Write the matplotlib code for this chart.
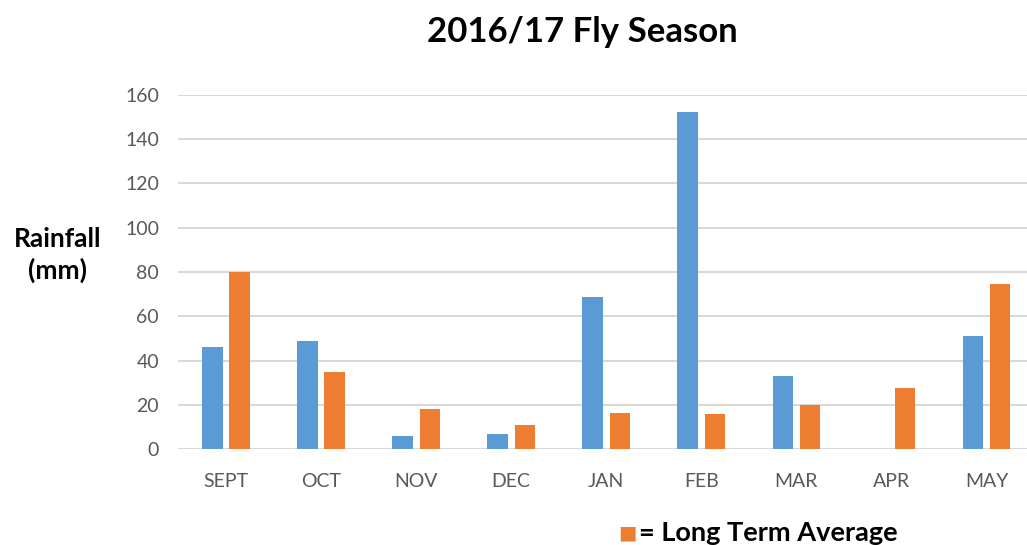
import numpy as np
import matplotlib
matplotlib.use("Agg")
import matplotlib.pyplot as plt

plt.rcParams['font.family'] = ['Lato', 'DejaVu Sans']

months = ["SEPT", "OCT", "NOV", "DEC", "JAN", "FEB", "MAR", "APR", "MAY"]
rain_1617 = [46.3, 49.0, 5.7, 6.6, 68.9, 152.2, 33.0, 0, 50.9]
long_term_avg = [79.8, 34.6, 18.3, 11.1, 16.5, 15.8, 20.1, 27.4, 74.5]
y_ticks = [0, 20, 40, 60, 80, 100, 120, 140, 160]

BLUE = "#5B9BD5"
ORANGE = "#ED7D31"
GREY = "#595959"


def main():
    fig = plt.figure(figsize=(10.27, 5.45), dpi=100)
    ax = fig.add_axes([0.1738, 0.176, 0.833, 0.65])

    x = np.arange(len(months))
    w = 0.215
    off = 0.143
    ax.bar(x - off, rain_1617, w, color=BLUE, zorder=3)
    ax.bar(x + off, long_term_avg, w, color=ORANGE, zorder=3)

    ax.set_xlim(-0.5, len(months) - 0.5)
    ax.set_ylim(0, 160)
    ax.set_yticks(y_ticks)
    ax.set_xticks(x)
    ax.set_xticklabels(months)
    ax.yaxis.grid(True, color="#D9D9D9", linewidth=1.5, zorder=0)
    ax.set_axisbelow(True)
    for s in ax.spines.values():
        s.set_visible(False)
    ax.tick_params(axis="both", length=0, labelsize=14, labelcolor=GREY)
    ax.tick_params(axis="y", pad=14)
    ax.tick_params(axis="x", pad=17)

    fig.text(0.567, 0.942, "2016/17 Fly Season", ha="center", va="center",
             fontsize=25, fontweight="bold", color="black")
    fig.text(0.056, 0.532, "Rainfall\n(mm)", ha="center", va="center",
             fontsize=19, fontweight="bold", color="black", linespacing=1.3)

    # manual key at the bottom
    fig.text(0.602, 0.022, "\u25A0", ha="left", va="center",
             fontsize=14, color=ORANGE, family=['DejaVu Sans'])
    fig.text(0.622, 0.022, "= Long Term Average", ha="left", va="center",
             fontsize=19.5, fontweight="bold", color="black")

    fig.savefig("out.png", dpi=100)


main()
